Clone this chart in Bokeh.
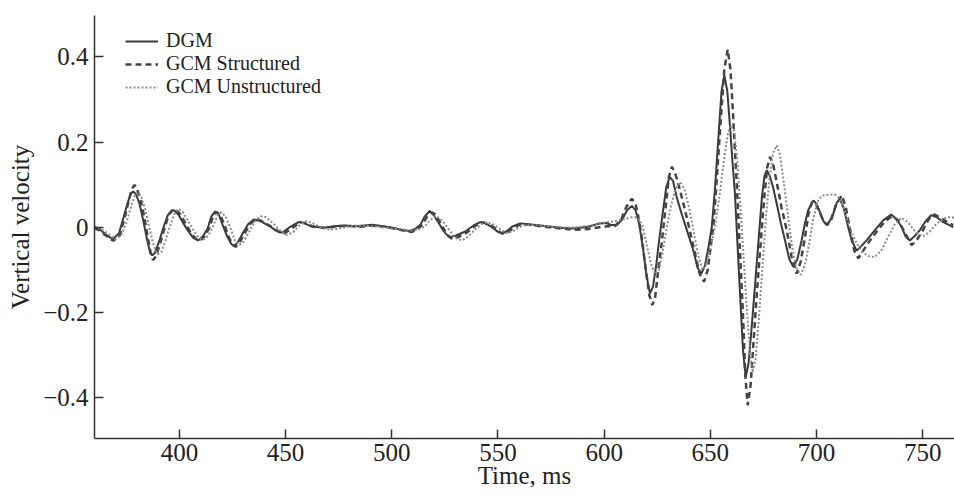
from bokeh.plotting import figure
from bokeh.models import Legend, LegendItem, FixedTicker
from bokeh.embed import file_html
from bokeh.resources import INLINE

# ---- data ----
dgm_t = [360.0, 362.5, 365.5, 368.6, 371.5, 373.5, 375.5, 377.0, 378.2, 379.5, 381.2, 383.0, 384.8, 386.2, 387.2,
         388.5, 390.6, 392.5, 394.5, 396.3, 397.5, 399.5, 401.5, 404.0, 406.5, 408.8, 411.0, 413.3, 415.0, 416.8,
         418.5, 420.3, 422.5, 424.5, 425.8, 427.5, 430.2, 432.5, 435.0, 437.5, 442.0, 445.5, 448.3, 452.2, 456.1,
         459.0, 462.0, 468.0, 473.0, 478.0, 483.6, 490.7, 496.0, 501.0, 505.5, 508.5, 511.0, 513.5, 515.5, 517.8,
         519.5, 521.5, 523.5, 525.5, 527.5, 530.0, 534.6, 538.5, 541.6, 544.5, 547.2, 550.0, 552.0, 554.5, 556.6,
         560.5, 566.7, 573.0, 579.3, 585.6, 592.6, 598.0, 601.0, 603.5, 606.0, 608.5, 610.8, 613.0, 614.8, 616.5,
         618.3, 620.0, 621.6, 623.0, 624.5, 625.8, 627.5, 629.3, 630.9, 632.5, 634.2, 636.6, 639.3, 642.0, 644.0,
         645.8, 647.5, 649.2, 650.7, 652.2, 653.8, 655.3, 656.6, 658.0, 659.3, 660.5, 661.6, 662.8, 664.0, 665.4,
         666.7, 668.0, 669.5, 671.0, 672.6, 674.3, 675.5, 676.6, 678.0, 679.5, 681.3, 683.2, 685.2, 687.2, 689.1,
         691.0, 693.0, 694.6, 696.1, 698.5, 700.0, 701.6, 703.2, 704.8, 706.3, 707.9, 709.6, 711.1, 712.8, 714.5,
         716.5, 718.9, 721.0, 723.6, 727.5, 731.4, 735.2, 737.5, 740.1, 742.0, 744.0, 746.0, 748.7, 751.5, 754.0,
         756.5, 759.7, 764.4]
dgm_v = [0.000, -0.005, -0.018, -0.028, -0.015, 0.020, 0.055, 0.078, 0.084, 0.078, 0.055, 0.015, -0.030, -0.060, -0.066,
         -0.060, -0.031, 0.000, 0.028, 0.039, 0.040, 0.030, 0.012, -0.008, -0.025, -0.031, -0.022, -0.003, 0.025, 0.037,
         0.030, 0.006, -0.022, -0.040, -0.044, -0.035, -0.011, 0.008, 0.018, 0.016, 0.004, -0.008, -0.013, 0.001, 0.012,
         0.009, 0.002, -0.001, 0.002, 0.004, 0.002, 0.006, 0.002, -0.002, -0.007, -0.009, -0.004, 0.006, 0.025, 0.038,
         0.030, 0.015, -0.002, -0.016, -0.023, -0.020, -0.010, 0.004, 0.012, 0.008, 0.000, -0.011, -0.015, -0.008, 0.001,
         0.009, 0.006, 0.002, -0.001, -0.003, 0.001, 0.009, 0.010, 0.005, 0.005, 0.018, 0.040, 0.050, 0.040, 0.008,
         -0.050, -0.115, -0.155, -0.140, -0.090, -0.035, 0.030, 0.095, 0.118, 0.108, 0.070, 0.030, -0.012, -0.054, -0.095,
         -0.109, -0.090, -0.045, 0.001, 0.090, 0.210, 0.320, 0.357, 0.320, 0.235, 0.150, 0.079, -0.040, -0.156, -0.290,
         -0.351, -0.320, -0.234, -0.140, -0.038, 0.070, 0.120, 0.134, 0.120, 0.095, 0.055, 0.010, -0.031, -0.075, -0.093,
         -0.075, -0.031, 0.010, 0.040, 0.063, 0.055, 0.036, 0.015, 0.005, 0.015, 0.032, 0.058, 0.066, 0.045, 0.009,
         -0.030, -0.055, -0.045, -0.031, -0.007, 0.016, 0.030, 0.020, 0.001, -0.022, -0.031, -0.022, -0.007, 0.015, 0.028,
         0.024, 0.012, 0.000]

gcs_t = [360.0, 362.5, 365.5, 368.8, 371.8, 374.0, 376.0, 377.6, 378.8, 380.0, 381.8, 383.6, 385.3, 386.7, 387.6,
         389.0, 391.0, 393.0, 395.0, 397.0, 398.5, 400.5, 402.5, 405.0, 407.5, 409.5, 411.8, 414.0, 415.8, 417.5,
         419.3, 421.3, 423.3, 425.3, 426.5, 428.3, 431.0, 433.3, 436.0, 438.5, 443.0, 446.5, 449.3, 453.0, 457.0,
         460.0, 463.0, 469.0, 475.0, 480.0, 485.0, 491.0, 497.0, 502.0, 506.5, 509.5, 512.0, 514.5, 516.5, 518.8,
         520.5, 522.5, 524.5, 526.5, 528.5, 531.0, 535.5, 539.5, 542.5, 545.5, 548.0, 551.0, 553.0, 555.5, 557.6,
         561.5, 567.5, 574.0, 580.0, 586.0, 592.5, 598.0, 601.5, 605.2, 608.0, 610.5, 613.0, 614.8, 616.3, 617.7,
         619.5, 621.3, 622.7, 624.0, 625.5, 627.1, 628.8, 630.5, 631.9, 633.4, 635.3, 637.3, 640.0, 642.8, 645.0,
         647.1, 648.8, 650.2, 651.4, 653.0, 654.9, 656.6, 658.2, 659.5, 660.6, 661.7, 662.7, 664.0, 665.3, 666.5,
         667.6, 669.0, 670.3, 672.0, 673.7, 675.3, 676.8, 678.1, 679.5, 681.3, 683.6, 686.0, 688.3, 690.7, 692.6,
         694.6, 696.2, 697.8, 699.5, 701.5, 703.5, 705.2, 707.0, 709.0, 711.9, 713.8, 715.8, 717.8, 719.7, 722.0,
         725.2, 729.0, 732.5, 735.8, 738.5, 741.5, 744.8, 747.0, 750.0, 753.0, 755.5, 758.5, 761.5, 764.4]
gcs_v = [-0.002, -0.008, -0.020, -0.032, -0.020, 0.018, 0.060, 0.090, 0.099, 0.090, 0.062, 0.020, -0.030, -0.066, -0.077,
         -0.068, -0.036, -0.002, 0.030, 0.041, 0.040, 0.030, 0.012, -0.010, -0.026, -0.032, -0.022, -0.002, 0.025, 0.036,
         0.028, 0.004, -0.024, -0.042, -0.046, -0.036, -0.012, 0.008, 0.018, 0.015, 0.002, -0.010, -0.015, -0.002, 0.012,
         0.008, 0.001, -0.002, 0.003, 0.003, 0.001, 0.004, 0.001, -0.004, -0.009, -0.011, -0.005, 0.006, 0.024, 0.035,
         0.030, 0.014, -0.004, -0.020, -0.028, -0.024, -0.012, 0.004, 0.012, 0.008, 0.000, -0.012, -0.016, -0.009, 0.000,
         0.008, 0.004, 0.000, -0.003, -0.006, -0.004, 0.000, 0.002, 0.003, 0.018, 0.048, 0.067, 0.055, 0.020, -0.023,
         -0.095, -0.160, -0.183, -0.165, -0.100, -0.038, 0.040, 0.118, 0.142, 0.128, 0.095, 0.056, 0.000, -0.062, -0.110,
         -0.128, -0.100, -0.045, 0.001, 0.110, 0.251, 0.370, 0.417, 0.370, 0.275, 0.170, 0.079, -0.060, -0.195, -0.350,
         -0.418, -0.370, -0.273, -0.150, -0.038, 0.065, 0.140, 0.165, 0.150, 0.105, 0.045, -0.007, -0.070, -0.109, -0.080,
         -0.023, 0.030, 0.058, 0.057, 0.036, 0.012, 0.006, 0.018, 0.050, 0.075, 0.048, -0.007, -0.055, -0.073, -0.055,
         -0.031, -0.006, 0.015, 0.026, 0.016, -0.012, -0.042, -0.032, -0.008, 0.020, 0.030, 0.022, 0.012, 0.005]

gcu_t = [360.0, 363.0, 366.0, 369.5, 372.5, 375.0, 377.0, 379.0, 380.5, 382.0, 384.0, 386.0, 388.0, 389.8, 391.5,
         393.5, 395.5, 397.5, 399.5, 401.5, 404.0, 406.5, 409.0, 411.0, 413.5, 416.0, 418.0, 419.8, 421.8, 424.0,
         426.0, 428.0, 430.0, 432.5, 435.0, 438.0, 440.5, 444.0, 447.0, 450.5, 453.5, 456.5, 459.5, 462.5, 466.0,
         471.0, 476.0, 481.0, 487.0, 493.0, 499.0, 505.0, 509.0, 512.5, 515.5, 518.0, 520.5, 522.5, 525.0, 527.5,
         530.0, 533.0, 536.0, 539.5, 542.5, 545.0, 548.0, 551.0, 554.0, 557.0, 560.0, 564.0, 570.0, 576.0, 582.0,
         588.0, 594.0, 598.0, 602.0, 606.0, 610.0, 613.5, 616.0, 618.0, 620.0, 622.0, 624.0, 625.8, 627.5, 629.5,
         631.5, 633.5, 635.8, 637.8, 640.0, 642.0, 644.0, 646.3, 648.3, 650.5, 652.5, 654.5, 656.5, 658.3, 659.8,
         661.3, 662.8, 664.3, 665.8, 667.3, 668.8, 670.0, 671.3, 672.8, 674.5, 676.3, 678.0, 679.6, 681.3, 682.8,
         684.5, 686.5, 688.5, 690.5, 692.5, 694.5, 696.5, 698.5, 700.5, 702.5, 705.5, 708.5, 710.5, 712.5, 715.0,
         718.0, 721.5, 724.5, 727.5, 730.5, 734.0, 737.0, 740.0, 743.0, 746.5, 750.0, 753.0, 756.5, 760.0, 763.0, 765.0]
gcu_v = [0.002, -0.004, -0.014, -0.028, -0.020, 0.010, 0.045, 0.075, 0.082, 0.072, 0.040, -0.005, -0.045, -0.064, -0.058,
         -0.030, 0.002, 0.030, 0.043, 0.036, 0.015, -0.006, -0.024, -0.030, -0.020, 0.004, 0.028, 0.035, 0.025, -0.002,
         -0.030, -0.042, -0.035, -0.014, 0.008, 0.026, 0.024, 0.010, -0.006, -0.018, -0.012, 0.004, 0.014, 0.010, 0.000,
         -0.006, -0.002, 0.003, 0.004, 0.001, -0.002, -0.005, -0.008, -0.006, 0.002, 0.016, 0.026, 0.022, 0.008, -0.010,
         -0.025, -0.031, -0.022, -0.004, 0.008, 0.012, 0.006, -0.005, -0.014, -0.010, 0.000, 0.006, 0.004, 0.001, -0.001,
         0.000, 0.004, 0.009, 0.012, 0.015, 0.020, 0.024, 0.022, 0.005, -0.040, -0.085, -0.110, -0.100, -0.060, 0.000,
         0.050, 0.088, 0.106, 0.090, 0.045, -0.005, -0.060, -0.100, -0.085, -0.040, 0.010, 0.080, 0.160, 0.220, 0.240,
         0.225, 0.150, 0.040, -0.080, -0.200, -0.300, -0.340, -0.310, -0.220, -0.100, 0.030, 0.120, 0.175, 0.192, 0.170,
         0.110, 0.030, -0.045, -0.095, -0.112, -0.090, -0.040, 0.020, 0.060, 0.074, 0.076, 0.077, 0.070, 0.050, 0.010,
         -0.030, -0.058, -0.068, -0.070, -0.055, -0.020, 0.008, 0.022, 0.012, -0.010, -0.022, -0.012, 0.008, 0.020, 0.024, 0.022]

x_ticks = [400, 450, 500, 550, 600, 650, 700, 750]
y_ticks = [-0.4, -0.2, 0.0, 0.2, 0.4]
y_tick_labels = {-0.4: "\u22120.4", -0.2: "\u22120.2", 0.0: "0", 0.2: "0.2", 0.4: "0.4"}
series_names = ["DGM", "GCM Structured", "GCM Unstructured"]

FONT = "Liberation Serif"

p = figure(width=954, height=497, x_range=(360, 765), y_range=(-0.496, 0.497),
           output_backend="svg", toolbar_location=None,
           min_border_left=94, min_border_right=0, min_border_top=15, min_border_bottom=59)
p.outline_line_color = None
p.grid.visible = False
p.background_fill_color = "white"
p.border_fill_color = "white"

r1 = p.line(dgm_t, dgm_v, line_color="#3a3a3a", line_width=2)
r2 = p.line(gcs_t, gcs_v, line_color="#444444", line_width=2.5, line_dash="6 4")
r3 = p.line(gcu_t, gcu_v, line_color="#8a8a8a", line_width=2, line_dash="2 2")

for ax in (p.xaxis[0], p.yaxis[0]):
    ax.axis_line_color = "#333333"
    ax.axis_line_width = 1.5
    ax.major_tick_line_color = "#333333"
    ax.major_tick_line_width = 1.5
    ax.major_tick_in = 9
    ax.major_tick_out = 0
    ax.minor_tick_line_color = None
    ax.major_label_text_font = FONT
    ax.major_label_text_font_size = "25px"
    ax.major_label_text_color = "#222222"
    ax.axis_label_text_font = FONT
    ax.axis_label_text_font_size = "25px"
    ax.axis_label_text_font_style = "normal"
    ax.axis_label_text_color = "#222222"

p.xaxis.ticker = FixedTicker(ticks=x_ticks)
p.yaxis.ticker = FixedTicker(ticks=y_ticks)
p.yaxis.major_label_overrides = y_tick_labels
p.xaxis.axis_label = "Time, ms"
p.yaxis.axis_label = "Vertical velocity"
p.xaxis.major_label_standoff = 5
p.xaxis.axis_label_standoff = -2
p.yaxis.major_label_standoff = 6
p.yaxis.axis_label_standoff = 6

legend = Legend(items=[LegendItem(label=series_names[0], renderers=[r1]),
                       LegendItem(label=series_names[1], renderers=[r2]),
                       LegendItem(label=series_names[2], renderers=[r3])],
                location=(31, 340))
legend.border_line_color = None
legend.background_fill_alpha = 0
legend.padding = 0
legend.margin = 0
legend.spacing = 0
legend.glyph_width = 33
legend.glyph_height = 20
legend.label_height = 20
legend.label_standoff = 8
legend.label_text_font = FONT
legend.label_text_font_size = "20px"
legend.label_text_color = "#222222"
p.add_layout(legend, "center")

open("out.html", "w").write(file_html(p, INLINE))
